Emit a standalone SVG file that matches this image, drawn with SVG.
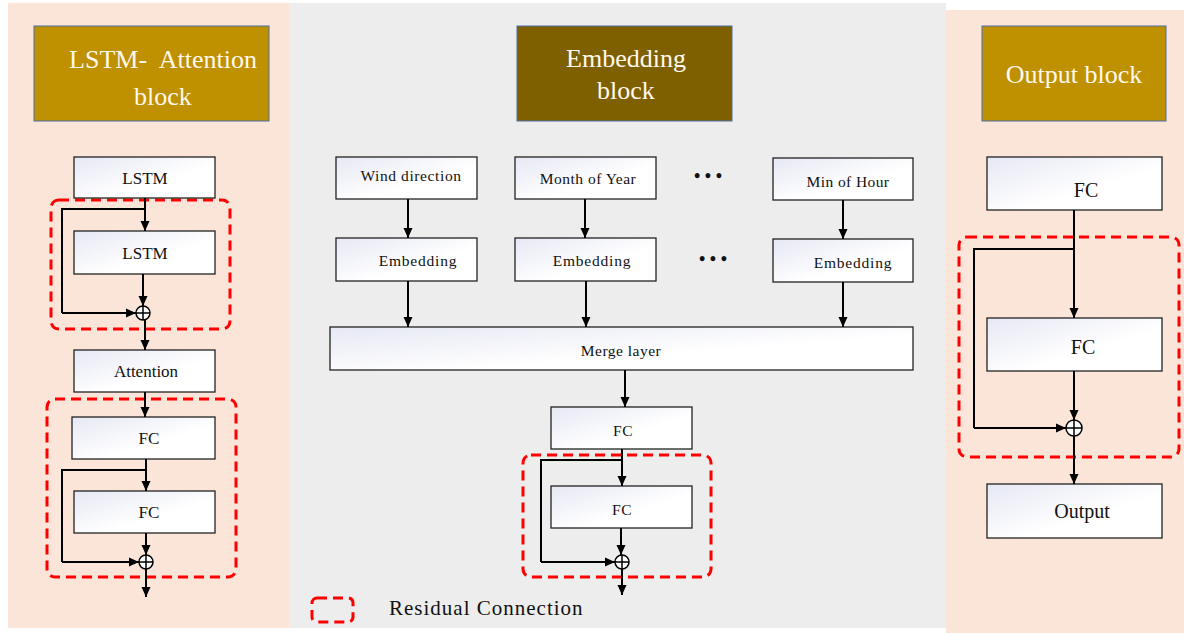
<svg xmlns="http://www.w3.org/2000/svg" width="1184" height="633" viewBox="0 0 1184 633">
<defs>
<linearGradient id="bg" x1="0" y1="0" x2="1" y2="1">
<stop offset="0" stop-color="#E6E8F4"/>
<stop offset="0.6" stop-color="#FFFFFF"/>
<stop offset="1" stop-color="#FFFFFF"/>
</linearGradient>
<marker id="ah" markerUnits="userSpaceOnUse" markerWidth="10" markerHeight="10" viewBox="0 0 10 10" refX="10" refY="5" orient="auto">
<path d="M0,0.5 L10,5 L0,9.5 Z" fill="#000"/>
</marker>
</defs>
<style>
.node{fill:url(#bg);stroke:#222;stroke-width:1.3}
.t{font-family:"Liberation Serif",serif;fill:#111;text-anchor:middle}
.s{font-size:17px}
.m{font-size:15.5px}
.b{font-size:20px}
.title{fill:#BF9000;stroke:#4A6FA5;stroke-width:1}
.tt{font-family:"Liberation Serif",serif;fill:#FFF8EC;font-size:26px;text-anchor:middle}
.ln{fill:none;stroke:#000;stroke-width:2}
.ar{fill:none;stroke:#000;stroke-width:2;marker-end:url(#ah)}
.res{fill:none;stroke:#FF0000;stroke-width:3;stroke-dasharray:10 6}
.plus{fill:#fff;stroke:#000;stroke-width:1.5}
</style>
<rect x="0" y="0" width="1184" height="633" fill="#fff"/>
<g id="panels">
<rect x="8" y="3" width="281" height="625" fill="#FAE5D8"/>
<rect x="289" y="3" width="657" height="625" fill="#EDEDED"/>
<rect x="946" y="10" width="238" height="623" fill="#FAE5D8"/>
</g>
<g id="title-lstm">
<rect class="title" x="34" y="26" width="235" height="95"/>
<text class="tt" x="163" y="68" xml:space="preserve">LSTM-  Attention</text>
<text class="tt" x="163" y="105">block</text>
</g>
<g id="title-embed">
<rect class="title" x="517" y="26" width="215" height="95" style="fill:#7F6000"/>
<text class="tt" x="626" y="67">Embedding</text>
<text class="tt" x="626" y="99">block</text>
</g>
<g id="title-output">
<rect class="title" x="982" y="26" width="184" height="95"/>
<text class="tt" x="1074" y="83">Output block</text>
</g>
<g id="residual-boxes">
<rect class="res" x="51" y="200" width="179" height="129" rx="8"/>
<rect class="res" x="47" y="399" width="189" height="178" rx="8"/>
<rect class="res" x="523" y="455" width="188" height="122" rx="8"/>
<rect class="res" x="959" y="237" width="220" height="220" rx="8"/>
</g>
<g id="lstm1"><rect class="node" x="74" y="157" width="141" height="41"/><text class="t s" x="145" y="184">LSTM</text></g>
<g id="lstm2"><rect class="node" x="74" y="231" width="141" height="43"/><text class="t s" x="145" y="259">LSTM</text></g>
<g id="attention"><rect class="node" x="74" y="350" width="141" height="42"/><text class="t s" x="146" y="377">Attention</text></g>
<g id="fc-l1"><rect class="node" x="72" y="417" width="143" height="42"/><text class="t s" x="149" y="444">FC</text></g>
<g id="fc-l2"><rect class="node" x="74" y="491" width="141" height="42"/><text class="t s" x="149" y="518">FC</text></g>
<g id="wind"><rect class="node" x="336" y="157" width="141" height="42"/><text class="t m" x="411" y="181" letter-spacing="0.6">Wind direction</text></g>
<g id="month"><rect class="node" x="515" y="157" width="141" height="42"/><text class="t m" x="588" y="184" letter-spacing="0.5">Month of Year</text></g>
<g id="minhour"><rect class="node" x="773" y="158" width="140" height="42"/><text class="t m" x="848" y="187" letter-spacing="0.4">Min of Hour</text></g>
<g id="emb1"><rect class="node" x="336" y="238" width="141" height="43"/><text class="t m" x="418" y="266" letter-spacing="0.8">Embedding</text></g>
<g id="emb2"><rect class="node" x="515" y="238" width="141" height="43"/><text class="t m" x="592" y="266" letter-spacing="0.8">Embedding</text></g>
<g id="emb3"><rect class="node" x="773" y="239" width="140" height="43"/><text class="t m" x="853" y="268" letter-spacing="0.8">Embedding</text></g>
<g id="dots">
<text class="t" x="708" y="182" font-size="18" font-weight="bold" xml:space="preserve">• • •</text>
<text class="t" x="713" y="265" font-size="18" font-weight="bold" xml:space="preserve">• • •</text>
</g>
<g id="merge"><rect class="node" x="330" y="327" width="583" height="43"/><text class="t m" x="621" y="356" letter-spacing="0.5">Merge layer</text></g>
<g id="fc-m1"><rect class="node" x="551" y="407" width="141" height="42"/><text class="t m" x="623" y="436" letter-spacing="0.5">FC</text></g>
<g id="fc-m2"><rect class="node" x="551" y="486" width="141" height="42"/><text class="t m" x="622" y="515" letter-spacing="0.5">FC</text></g>
<g id="fc-r1"><rect class="node" x="987" y="157" width="175" height="53"/><text class="t b" x="1086" y="197">FC</text></g>
<g id="fc-r2"><rect class="node" x="987" y="318" width="175" height="53"/><text class="t b" x="1083" y="354">FC</text></g>
<g id="output"><rect class="node" x="987" y="484" width="175" height="54"/><text class="t b" x="1082" y="518">Output</text></g>
<g id="connectors">
<path class="ar" d="M145,198 V231"/>
<path class="ln" d="M145,209 H62 V313"/>
<path class="ar" d="M62,313 H136"/>
<path class="ar" d="M143,274 V306"/>
<path class="ar" d="M145,320 V350"/>
<path class="ar" d="M145,392 V417"/>
<path class="ar" d="M146,459 V491"/>
<path class="ln" d="M146,470 H62 V562"/>
<path class="ar" d="M62,562 H139"/>
<path class="ar" d="M146,533 V555"/>
<path class="ar" d="M146,569 V597"/>
<circle class="plus" cx="143" cy="313" r="7"/>
<path class="ln" d="M136,313 H150 M143,306 V320" style="stroke-width:1.5"/>
<circle class="plus" cx="146" cy="562" r="7"/>
<path class="ln" d="M139,562 H153 M146,555 V569" style="stroke-width:1.5"/>
<path class="ar" d="M408,199 V238"/>
<path class="ar" d="M585,199 V238"/>
<path class="ar" d="M843,200 V239"/>
<path class="ar" d="M408,281 V327"/>
<path class="ar" d="M586,281 V327"/>
<path class="ar" d="M843,282 V327"/>
<path class="ar" d="M625,370 V407"/>
<path class="ar" d="M622,449 V486"/>
<path class="ln" d="M622,460 H541 V562"/>
<path class="ar" d="M541,562 H615"/>
<path class="ar" d="M621,528 V555"/>
<path class="ar" d="M622,569 V595"/>
<circle class="plus" cx="622" cy="562" r="7"/>
<path class="ln" d="M615,562 H629 M622,555 V569" style="stroke-width:1.5"/>
<path class="ar" d="M1074,210 V318"/>
<path class="ln" d="M1074,249 H974 V428"/>
<path class="ar" d="M974,428 H1066"/>
<path class="ar" d="M1074,371 V420"/>
<path class="ar" d="M1074,436 V484"/>
<circle class="plus" cx="1074" cy="428" r="8"/>
<path class="ln" d="M1066,428 H1082 M1074,420 V436" style="stroke-width:1.5"/>
</g>
<g id="legend">
<rect class="res" x="312" y="598" width="41" height="24" rx="5"/>
<text x="389" y="615" font-family="Liberation Serif, serif" font-size="21" letter-spacing="1" fill="#111">Residual Connection</text>
</g>
</svg>
